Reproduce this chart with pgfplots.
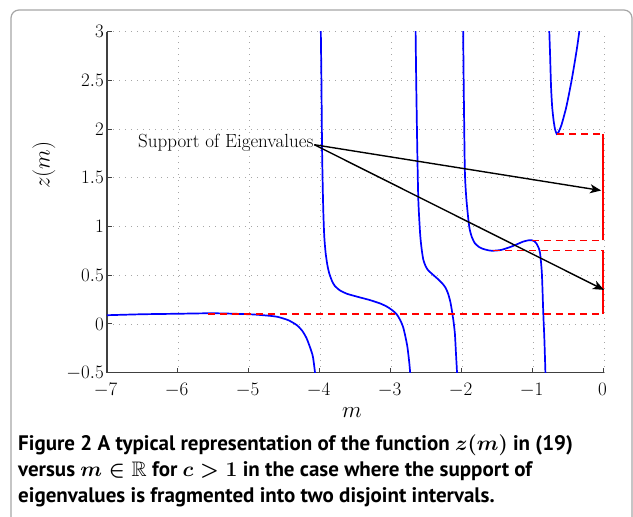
\documentclass[border=0pt]{standalone}
\usepackage{fix-cm}
\usepackage{amsfonts}
\usepackage{fontspec}
\usepackage{pgfplots}
\pgfplotsset{compat=1.18}
\usetikzlibrary{arrows.meta}
\newfontfamily\capfont{PT Sans}
\newcommand\capline[1]{{\capfont\bfseries\fontsize{21}{25}\selectfont\boldmath #1}}

\begin{document}
\begin{tikzpicture}[x=1pt,y=1pt]
\useasboundingbox (0,0) rectangle (633,517);
% rounded frame around the figure
\draw[gray!70, line width=1.2pt, rounded corners=8pt]
  (11,-10) -- (11,507) -- (632,507) -- (632,-10);

\begin{axis}[
  at={(107pt,144.3pt)}, anchor=south west,
  scale only axis, width=497pt, height=341pt,
  xmin=-7, xmax=0, ymin=-0.5, ymax=3,
  xtick={-7,-6,...,0}, ytick={-0.5,0,0.5,1,1.5,2,2.5,3},
  axis x line*=bottom, axis y line*=left,
  axis line style={line width=1.4pt, black!75},
  tick align=inside, major tick length=5pt,
  tick style={line width=1pt, black!75},
  grid=major,
  major grid style={gray!70, line width=0.8pt, dash pattern=on 0.8pt off 5.2pt},
  tick label style={font=\fontsize{19}{22}\selectfont},
  yticklabel style={inner xsep=3pt, inner ysep=0pt},
  xticklabel style={inner ysep=0pt, yshift=-10.5pt, xshift=-1.5pt},
  clip=true,
]
% left branch
\addplot[blue, line width=1.7pt, smooth, tension=0.4] coordinates {
 (-7,0.09) (-6.5,0.10) (-6,0.105) (-5.5,0.11) (-5,0.10) (-4.8,0.09)
 (-4.61,0.075) (-4.45,0.04) (-4.33,-0.01) (-4.25,-0.07) (-4.19,-0.145)
 (-4.14,-0.24) (-4.10,-0.335) (-4.07,-0.5) (-4.06,-0.6)};
% branch between the first two poles
\addplot[blue, line width=1.7pt, smooth, tension=0.4] coordinates {
 (-3.99,3.1) (-3.98,2.5) (-3.97,1.75) (-3.955,1.2) (-3.94,0.9)
 (-3.92,0.725) (-3.895,0.6) (-3.87,0.52) (-3.83,0.44) (-3.79,0.39)
 (-3.72,0.345) (-3.62,0.31) (-3.45,0.275) (-3.30,0.246) (-3.15,0.21)
 (-3.05,0.175) (-2.98,0.14) (-2.92,0.10) (-2.87,0.04) (-2.83,-0.03)
 (-2.80,-0.12) (-2.77,-0.23) (-2.745,-0.38) (-2.73,-0.5) (-2.725,-0.6)};
\addplot[blue, line width=1.7pt, smooth, tension=0.4] coordinates {
 (-2.655,3.1) (-2.645,2.5) (-2.63,1.8) (-2.615,1.27) (-2.59,0.93)
 (-2.57,0.78) (-2.545,0.66) (-2.51,0.59) (-2.475,0.55) (-2.40,0.50)
 (-2.33,0.455) (-2.27,0.41) (-2.23,0.37) (-2.195,0.31) (-2.165,0.23)
 (-2.145,0.15) (-2.12,0.03) (-2.10,-0.10) (-2.085,-0.3) (-2.07,-0.5)
 (-2.067,-0.6)};
\addplot[blue, line width=1.7pt, smooth, tension=0.4] coordinates {
 (-1.985,3.1) (-1.975,2.4) (-1.96,1.58) (-1.94,1.3) (-1.91,1.07)
 (-1.89,0.965) (-1.86,0.89) (-1.82,0.83) (-1.76,0.79) (-1.70,0.77)
 (-1.62,0.755) (-1.56,0.752) (-1.45,0.76) (-1.32,0.79) (-1.22,0.82)
 (-1.14,0.845) (-1.07,0.858) (-1.02,0.86) (-0.98,0.85) (-0.95,0.825)
 (-0.92,0.78) (-0.90,0.725) (-0.875,0.52) (-0.855,0.11) (-0.84,-0.15)
 (-0.825,-0.5) (-0.823,-0.6)};
% right-most branch
\addplot[blue, line width=1.7pt, smooth, tension=0.4] coordinates {
 (-0.775,3.1) (-0.76,2.78) (-0.746,2.44) (-0.73,2.23) (-0.71,2.09)
 (-0.69,2.0) (-0.665,1.95) (-0.64,1.97) (-0.60,2.04) (-0.53,2.23)
 (-0.455,2.505) (-0.385,2.81) (-0.345,3.02) (-0.34,3.1)};

% support edges
\addplot[red, line width=1.6pt, dash pattern=on 7pt off 5pt] coordinates {(-5.58,0.105) (0,0.105)};
\addplot[red, line width=1.6pt, dash pattern=on 7pt off 5pt] coordinates {(-1.56,0.753) (0,0.753)};
\addplot[red, line width=1.6pt, dash pattern=on 7pt off 5pt] coordinates {(-1.02,0.857) (0,0.857)};
\addplot[red, line width=1.6pt, dash pattern=on 7pt off 5pt] coordinates {(-0.66,1.947) (0,1.947)};
% the two intervals of the support
\addplot[red, line width=3pt] coordinates {(0,0.105) (0,0.753)};
\addplot[red, line width=3pt] coordinates {(0,0.857) (0,1.947)};

\draw[-{Stealth[length=11pt,width=9pt,inset=3pt]}, line width=1.4pt]
  (axis cs:-4.08,1.84) -- (axis cs:-0.04,1.37);
\draw[-{Stealth[length=11pt,width=9pt,inset=3pt]}, line width=1.4pt]
  (axis cs:-4.08,1.84) -- (axis cs:0,0.35);
\node[anchor=east, inner sep=0pt, font=\fontsize{19}{22}\selectfont]
  at (axis cs:-4.09,1.86) {Support of Eigenvalues};
\end{axis}

% axis labels
\node at (352,104) {\fontsize{23}{26}\selectfont$m$};
\node[rotate=90] at (44,352) {\fontsize{23}{26}\selectfont$z(m)$};

% caption
\node[anchor=base west, inner sep=0pt] at (18,66)
  {\capline{Figure 2 A typical representation of the function $z(m)$ in (19)}};
\node[anchor=base west, inner sep=0pt] at (18,40)
  {\capline{versus $m\in\mathbb{R}$ for $c>1$ in the case where the support of}};
\node[anchor=base west, inner sep=0pt] at (18,14)
  {\capline{eigenvalues is fragmented into two disjoint intervals.}};
\end{tikzpicture}
\end{document}
